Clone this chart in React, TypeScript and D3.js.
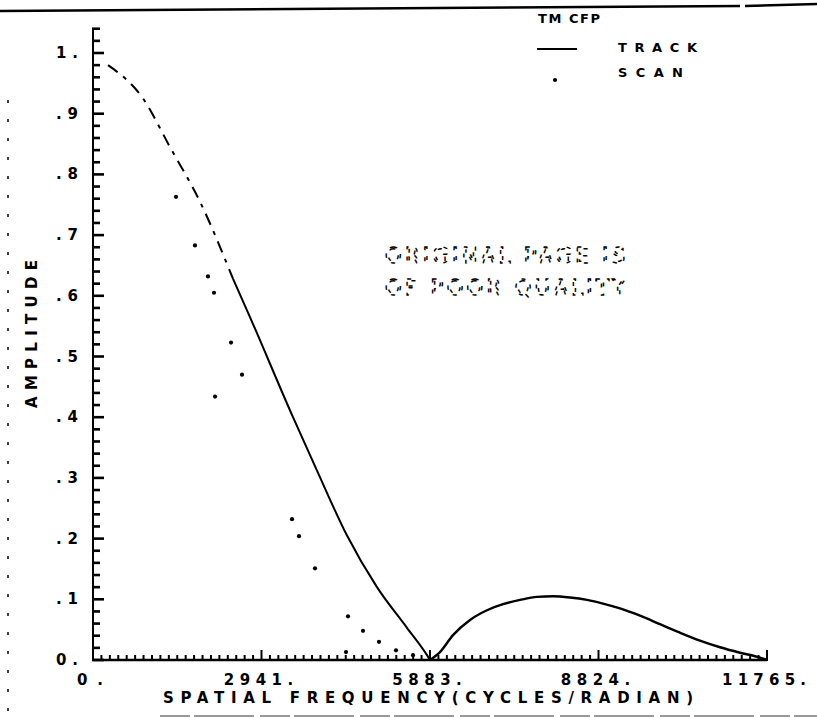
import React from "react";
import * as d3 from "d3";

// ---- data ----
const xTickValues = [0, 2941, 5883, 8824, 11765];
const xTickLabels = ["0.", "2941.", "5883.", "8824.", "11765."];
const yTickValues = [0, 0.1, 0.2, 0.3, 0.4, 0.5, 0.6, 0.7, 0.8, 0.9, 1.0];
const yTickLabels = ["0.", ".1", ".2", ".3", ".4", ".5", ".6", ".7", ".8", ".9", "1."];

// TRACK (solid curve): frequency, amplitude
const trackFreq = [262, 873, 1344, 1868, 2444, 2740, 3491, 3910, 4434, 4957, 5481, 5830, 5883,
  6057, 6284, 6581, 6877, 7157, 7454, 7750, 8030, 8326, 8623, 8902, 9199, 9548, 9897, 10246, 10595, 10945, 11294, 11643, 11765];
const trackAmp = [0.98, 0.925, 0.845, 0.755, 0.628, 0.565, 0.4, 0.312, 0.205, 0.12, 0.053, 0.008, 0.0,
  0.013, 0.041, 0.066, 0.082, 0.092, 0.099, 0.104, 0.105, 0.103, 0.099, 0.093, 0.085, 0.073, 0.059, 0.045, 0.032, 0.021, 0.012, 0.004, 0.0];
const dashedUntilIndex = 4; // upper part drawn broken in the reference
const mainLobeEnd = 12;

// SCAN (dots)
const scanFreq = [1449, 1780, 2007, 2112, 2409, 2601, 2130, 3474, 3596, 3875, 4451, 4713, 4992, 5289, 5586, 4416];
const scanAmp = [0.763, 0.683, 0.632, 0.605, 0.523, 0.47, 0.434, 0.232, 0.204, 0.151, 0.072, 0.048, 0.03, 0.016, 0.008, 0.013];

const legendTitle = "TM CFP";
const legendTrack = "TRACK";
const legendScan = "SCAN";
const xTitle = "SPATIAL FREQUENCY(CYCLES/RADIAN)";
const yTitle = "AMPLITUDE";
const stampLines = ["ORIGINAL PAGE IS", "OF POOR QUALITY"];

const FONT = "'DejaVu Sans', sans-serif";
const B = { fontWeight: 700 as const };

export default function App() {
  const W = 817, H = 718;
  const x = d3.scaleLinear().domain([0, 11765]).range([93, 767]);
  const y = d3.scaleLinear().domain([0, 1]).range([660, 53]);

  const pts = trackFreq.map((f, i) => [f, trackAmp[i]] as [number, number]);
  const line = d3.line<[number, number]>().x(d => x(d[0])).y(d => y(d[1])).curve(d3.curveMonotoneX);
  const upper = line(pts.slice(0, dashedUntilIndex + 1)) || "";
  const main1 = line(pts.slice(dashedUntilIndex, mainLobeEnd + 1)) || "";
  const lobe2 = line(pts.slice(mainLobeEnd)) || "";

  const yMinor = d3.range(0, 1.041, 0.02);
  const xMinor = d3.range(0, 81).map(i => (i * 11765) / 80);

  return (
    <svg width={W} height={H} style={{ position: "absolute", left: 0, top: 0, background: "#fff" }}
      fontFamily={FONT}>
      <rect x={0} y={0} width={W} height={H} fill="#fff" />
      {/* scan page border artifacts */}
      <path d="M0,11 L740,6" stroke="#000" strokeWidth={2.5} />
      <path d="M745,6 L817,4" stroke="#000" strokeWidth={2.5} />
      <line x1={160} y1={716} x2={817} y2={716} stroke="#777" strokeWidth={1.5} strokeDasharray="30 4 60 6" />
      <line x1={8} y1={100} x2={8} y2={718} stroke="#000" strokeWidth={1.5} strokeDasharray="3 16" />

      {/* y axis ticks (inward) */}
      <g>
        {yMinor.map((v, i) => (
          <line key={`ym${i}`} x1={92} x2={i % 5 === 0 ? 104 : 100} y1={y(v)} y2={y(v)} stroke="#000" strokeWidth={2.6} />
        ))}
      </g>
      <line x1={93} y1={y(0)} x2={93} y2={y(1.04)} stroke="#000" strokeWidth={2} />
      {yTickValues.map((v, i) => (
        <text key={"yl" + i} x={78} y={y(v) + 5} textAnchor="end" fontSize={15} style={B}
          textLength={yTickLabels[i].length * 11} lengthAdjust="spacing">{yTickLabels[i]}</text>
      ))}

      {/* x axis ticks (upward) */}
      <g>
        {xMinor.map((v, i) => (
          <line key={`xm${i}`} x1={x(v)} x2={x(v)} y1={661} y2={i % 20 === 0 ? 650 : 655} stroke="#000" strokeWidth={2} />
        ))}
      </g>
      <line x1={93} y1={y(0)} x2={767} y2={y(0)} stroke="#000" strokeWidth={2.4} />
      {xTickValues.map((v, i) => (
        <text key={"xl" + i} x={x(v) - 3} y={685} textAnchor="middle" fontSize={15} style={B}
          textLength={xTickLabels[i].length * 14.5 - 3} lengthAdjust="spacing">{xTickLabels[i]}</text>
      ))}
      <text x={428} y={703} textAnchor="middle" fontSize={15} style={B} textLength={530} lengthAdjust="spacing">{xTitle}</text>
      <text transform="translate(37,334) rotate(-90)" textAnchor="middle" fontSize={15} style={B}
        textLength={148} lengthAdjust="spacing">{yTitle}</text>

      {/* TRACK curve */}
      <path d={upper} fill="none" stroke="#000" strokeWidth={2} strokeDasharray="12 7 4 7" />
      <path d={main1} fill="none" stroke="#000" strokeWidth={2} />
      <path d={lobe2} fill="none" stroke="#000" strokeWidth={2.4} />

      {/* SCAN dots */}
      {scanFreq.map((f, i) => (
        <circle key={"s" + i} cx={x(f)} cy={y(scanAmp[i])} r={2.1} fill="#000" />
      ))}

      {/* legend */}
      <text x={538} y={23} fontSize={13} style={B} textLength={62} lengthAdjust="spacing">{legendTitle}</text>
      <line x1={537} x2={577} y1={49} y2={49} stroke="#000" strokeWidth={2} />
      <text x={618} y={52} fontSize={13} style={B} textLength={79} lengthAdjust="spacing">{legendTrack}</text>
      <circle cx={555} cy={80} r={2.1} fill="#000" />
      <text x={618} y={77} fontSize={13} style={B} textLength={65} lengthAdjust="spacing">{legendScan}</text>

      {/* degraded stamp */}
      {stampLines.map((s, i) => (
        <text key={"st" + i} x={385} y={263 + i * 32} fontSize={21} fill="none"
          stroke="#000" strokeWidth={1.4} strokeDasharray="4 7" textLength={240} lengthAdjust="spacing">{s}</text>
      ))}
    </svg>
  );
}
